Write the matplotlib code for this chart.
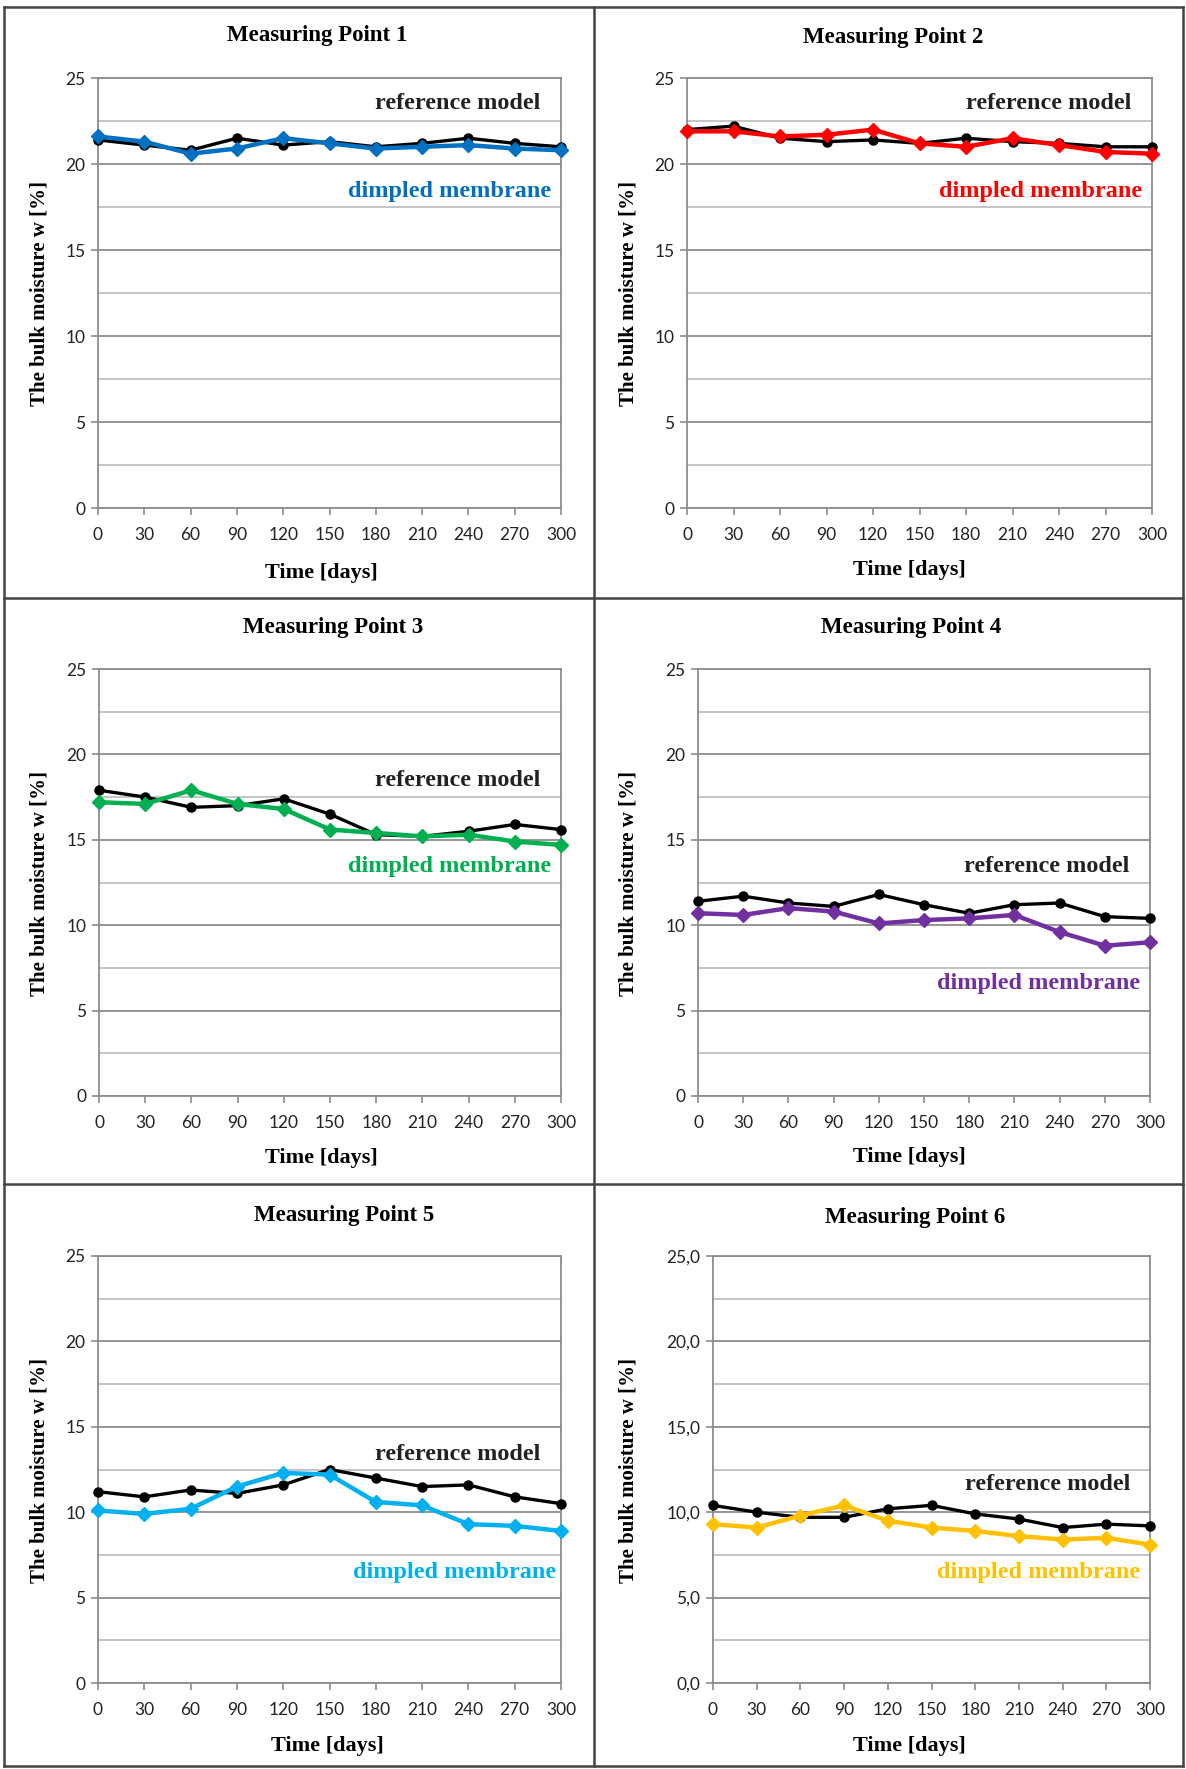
import matplotlib
matplotlib.use("Agg")
import matplotlib.pyplot as plt
from matplotlib.lines import Line2D
from matplotlib.ticker import MultipleLocator, FuncFormatter

# ---- data -----------------------------------------------------------------
days = [0, 30, 60, 90, 120, 150, 180, 210, 240, 270, 300]

ref1 = [21.4, 21.1, 20.8, 21.5, 21.1, 21.3, 21.0, 21.2, 21.5, 21.2, 21.0]
dim1 = [21.6, 21.3, 20.6, 20.9, 21.5, 21.2, 20.9, 21.0, 21.1, 20.9, 20.8]
ref2 = [22.0, 22.2, 21.5, 21.3, 21.4, 21.2, 21.5, 21.3, 21.2, 21.0, 21.0]
dim2 = [21.9, 21.9, 21.6, 21.7, 22.0, 21.2, 21.0, 21.5, 21.1, 20.7, 20.6]
ref3 = [17.9, 17.5, 16.9, 17.0, 17.4, 16.5, 15.3, 15.2, 15.5, 15.9, 15.6]
dim3 = [17.2, 17.1, 17.9, 17.1, 16.8, 15.6, 15.4, 15.2, 15.3, 14.9, 14.7]
ref4 = [11.4, 11.7, 11.3, 11.1, 11.8, 11.2, 10.7, 11.2, 11.3, 10.5, 10.4]
dim4 = [10.7, 10.6, 11.0, 10.8, 10.1, 10.3, 10.4, 10.6, 9.6, 8.8, 9.0]
ref5 = [11.2, 10.9, 11.3, 11.1, 11.6, 12.5, 12.0, 11.5, 11.6, 10.9, 10.5]
dim5 = [10.1, 9.9, 10.2, 11.5, 12.3, 12.2, 10.6, 10.4, 9.3, 9.2, 8.9]
ref6 = [10.4, 10.0, 9.7, 9.7, 10.2, 10.4, 9.9, 9.6, 9.1, 9.3, 9.2]
dim6 = [9.3, 9.1, 9.8, 10.4, 9.5, 9.1, 8.9, 8.6, 8.4, 8.5, 8.1]

titles = ["Measuring Point %d" % i for i in range(1, 7)]
refs = [ref1, ref2, ref3, ref4, ref5, ref6]
dims = [dim1, dim2, dim3, dim4, dim5, dim6]
colors = ["#0070C0", "#FF0000", "#00B050", "#7030A0", "#00B0F0", "#FFC000"]
# y of the two labels inside each plot (data units)
ref_label_y = [23.5, 23.5, 18.5, 13.45, 13.4, 11.6]
dim_label_y = [18.4, 18.4, 13.45, 6.6, 6.45, 6.45]

# ---- layout (pixels of the 1186x1769 picture) -----------------------------
W, H = 1186, 1769
axes_px = [(98, 78, 561, 508), (687, 78, 1152, 508),
           (99, 669, 561, 1096), (698, 669, 1150, 1096),
           (98, 1256, 561, 1683), (713, 1256, 1150, 1683)]
title_px = [(317, 36), (893, 38), (333, 628), (911, 628), (344, 1215), (915, 1218)]
xlab_px = [(321, 573), (909, 570), (321, 1158), (909, 1157), (327, 1746), (909, 1746)]
ylab_px = [(40, 293), (628, 293), (40, 883), (628, 883), (40, 1470), (628, 1470)]

serif = "Liberation Serif"
tickfont = "Lato"

fig = plt.figure(figsize=(W / 100, H / 100), dpi=100)
fig.patch.set_facecolor("white")

def fx(x):
    return x / W

def fy(y):
    return 1 - y / H

for i in range(6):
    x0, y0, x1, y1 = axes_px[i]
    ax = fig.add_axes([fx(x0), fy(y1), (x1 - x0) / W, (y1 - y0) / H])
    ax.set_xlim(0, 300)
    ax.set_ylim(0, 25)
    ax.xaxis.set_major_locator(MultipleLocator(30))
    ax.yaxis.set_major_locator(MultipleLocator(5))
    ax.yaxis.set_minor_locator(MultipleLocator(2.5))
    if i == 5:
        ax.yaxis.set_major_formatter(FuncFormatter(lambda v, p: ("%.1f" % v).replace(".", ",")))
    ax.grid(True, which="major", axis="y", color="#8c8c8c", lw=1.3)
    ax.grid(True, which="minor", axis="y", color="#bfbfbf", lw=1.3)
    ax.set_axisbelow(True)
    for s in ax.spines.values():
        s.set_color("#8c8c8c")
        s.set_linewidth(1.3)
    ax.tick_params(axis="x", which="major", length=5, width=1.2, color="#8c8c8c",
                   labelsize=12.5, pad=9)
    ax.tick_params(axis="y", which="major", length=5, width=1.2, color="#8c8c8c",
                   labelsize=12.5, pad=4)
    ax.tick_params(axis="y", which="minor", length=0)
    for lab in ax.get_xticklabels() + ax.get_yticklabels():
        lab.set_fontfamily(tickfont)
        lab.set_color("#222222")

    ax.plot(days, refs[i], color="black", lw=2.4, marker="o", ms=6.5, zorder=3,
            clip_on=False)
    ax.plot(days, dims[i], color=colors[i], lw=3.2, marker="D", ms=7, zorder=4,
            clip_on=False)

    tr = ax.get_yaxis_transform()
    ax.text(0.955, ref_label_y[i], "reference model", transform=tr, ha="right",
            va="center", fontsize=17.5, fontweight="bold", family=serif, color="#222222")
    ax.text(0.978 if i != 4 else 0.99, dim_label_y[i], "dimpled membrane", transform=tr,
            ha="right", va="center", fontsize=17.5, fontweight="bold", family=serif,
            color=colors[i])

    tx, ty = title_px[i]
    fig.text(fx(tx), fy(ty), titles[i], ha="center", va="center", fontsize=16.5,
             fontweight="bold", family=serif)
    lx, ly = xlab_px[i]
    fig.text(fx(lx), fy(ly), "Time [days]", ha="center", va="center", fontsize=16,
             fontweight="bold", family=serif)
    yx, yy = ylab_px[i]
    fig.text(fx(yx), fy(yy), "The bulk moisture w [%]", ha="center", va="center",
             rotation=90, fontsize=15, fontweight="bold", family=serif)

# panel frames
frame = "#444444"
for (xa, ya, xb, yb) in [(4, 7, 1183, 7), (4, 1766, 1183, 1766), (4, 7, 4, 1766),
                         (1183, 7, 1183, 1766), (594, 7, 594, 1766),
                         (4, 598, 1183, 598), (4, 1184, 1183, 1184)]:
    fig.add_artist(Line2D([fx(xa), fx(xb)], [fy(ya), fy(yb)], color=frame, lw=1.8))

fig.savefig("out.png", dpi=100)
